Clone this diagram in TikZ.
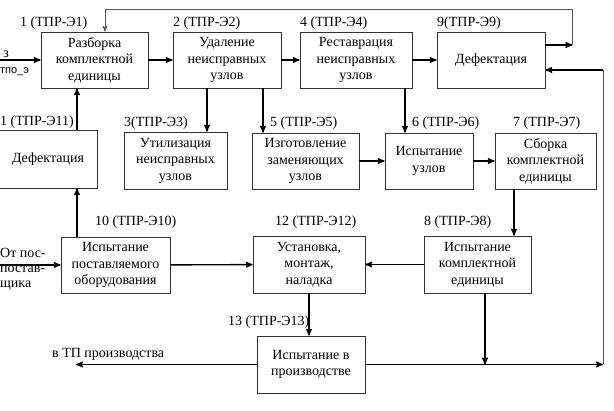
\documentclass[tikz,border=0pt]{standalone}
\usepackage{fontspec}
\setmainfont{Liberation Serif}
\setsansfont{Liberation Sans}
\usepackage{tikz}
\usetikzlibrary{arrows, positioning}
\colorlet{colorBox}{black!80}
\colorlet{colorBack}{black!65}
\tikzset{
  block/.style={draw=colorBox, line width=0.7pt, align=center, inner sep=0pt,
    font=\rmfamily\fontsize{14}{16.5}\selectfont},
  tag/.style={anchor=base west, inner sep=0pt, font=\rmfamily\fontsize{14}{16.5}\selectfont},
  flow/.style={->, line width=1.4pt},
  back/.style={line width=0.8pt, colorBack}
}

\begin{document}
\begin{tikzpicture}[>=stealth', x=1pt, y=-1pt]
\useasboundingbox (0,0) rectangle (614,411);
% row 1
\node[block, minimum width=107pt, minimum height=56pt] (b1) at (94.5,60) {Разборка\\комплектной\\единицы};
\node[block, minimum width=108pt, minimum height=56pt] (b2) at (227,60) {Удаление\\неисправных\\узлов};
\node[block, minimum width=112pt, minimum height=56pt] (b4) at (356,60) {Реставрация\\неисправных\\узлов};
\node[block, minimum width=108pt, minimum height=56pt] (b9) at (491,60) {Дефектация};
% row 2
\node[block, minimum width=98pt, minimum height=58pt] (b11) at (48,159) {Дефектация};
\node[block, minimum width=103pt, minimum height=57pt] (b3) at (175.5,160.5) {Утилизация\\неисправных\\узлов};
\node[block, minimum width=107pt, minimum height=56pt] (b5) at (305.5,161) {Изготовление\\заменяющих\\узлов};
\node[block, minimum width=88pt, minimum height=56pt] (b6) at (429,161) {Испытание\\узлов};
\node[block, minimum width=101pt, minimum height=56pt] (b7) at (545.5,161) {Сборка\\комплектной\\единицы};
% row 3
\node[block, minimum width=109pt, minimum height=56pt] (b10) at (115.5,265) {Испытание\\поставляемого\\оборудования};
\node[block, minimum width=112pt, minimum height=57pt] (b12) at (309,264.5) {Установка,\\монтаж,\\наладка};
\node[block, minimum width=107pt, minimum height=57pt] (b8) at (477.5,264.5) {Испытание\\комплектной\\единицы};
% row 4
\node[block, minimum width=108pt, minimum height=57pt] (b13) at (311,364.5) {Испытание в\\производстве};

% numbers
\node[tag] (n1) at (20,27) {1 (ТПР-Э1)};
\node[tag] (n2) at (173,27) {2 (ТПР-Э2)};
\node[tag] (n4) at (300,27) {4 (ТПР-Э4)};
\node[tag] (n9) at (437,27) {9(ТПР-Э9)};
\node[tag] (n11) at (0,126) {1 (ТПР-Э11)};
\node[tag] (n3) at (124,127) {3(ТПР-Э3)};
\node[tag] (n5) at (270,127) {5 (ТПР-Э5)};
\node[tag] (n6) at (412,127) {6 (ТПР-Э6)};
\node[tag] (n7) at (513,127) {7 (ТПР-Э7)};
\node[tag] (n10) at (95,226) {10 (ТПР-Э10)};
\node[tag] (n12) at (275,226) {12 (ТПР-Э12)};
\node[tag] (n8) at (424,226) {8 (ТПР-Э8)};
\node[tag] (n13) at (228,326) {13 (ТПР-Э13)};

% inputs and outputs
\node[anchor=base east, inner sep=0pt, font=\rmfamily\fontsize{14}{16.5}\selectfont] (z1) at (9,58) {з};
\node[anchor=base west, inner sep=0pt, font=\sffamily\fontsize{11}{13}\selectfont] (z2) at (0,74) {тпо\textunderscore э};
\node[anchor=north west, align=left, inner sep=0pt, font=\rmfamily\fontsize{14}{15}\selectfont] (src) at (0,248) {От пос-\\постав-\\щика};
\node[tag] (dst) at (52,358) {в ТП производства};

\coordinate (in1) at (0,60);
\coordinate (in10) at (0,265);
\coordinate (w13) at (76,364.5);
\coordinate (e13) at (603,364.5);

\draw [flow] (in1) -- (b1);
\draw [flow] (b1) edge (b2) (b2) edge (b4) (b4) edge (b9);
\draw [flow] (b5) edge (b6) (b6) edge (b7);
\draw [flow] (in10) -- (b10);
\draw [flow] (b10) edge (b12) (b8) edge (b12);
\draw [flow] (b13) -- (w13);
\draw [flow] (b13) -- (e13);

% downward links
\coordinate (d2a) at ([xshift=-20pt]b2.south);
\coordinate (d2b) at ([xshift=36pt]b2.south);
\coordinate (d4) at ([xshift=49pt]b4.south);
\coordinate (d7) at ([xshift=-31.5pt]b7.south);
\coordinate (d8) at ([xshift=7.5pt]b8.south);
\draw [flow] (d2a) -- (d2a |- b3.north);
\draw [flow] (d2b) -- (d2b |- b5.north);
\draw [flow] (d4) -- (d4 |- b6.north);
\draw [flow] (d7) -- (d7 |- b8.north);
\draw [flow] (b12.south) -- (b12.south |- b13.north);
\draw [flow] (d8) -- (d8 |- e13);

% upward links
\coordinate (u10) at ([xshift=-38.5pt]b10.north);
\coordinate (u11) at ([xshift=29pt]b11.north);
\draw [flow] (u10) -- (u10 |- b11.south);
\draw [flow] (u11) -- (u11 |- b1.south);

% return loops
\coordinate (r9) at ([yshift=-10pt]b9.east);
\coordinate (s9) at ([yshift=15pt]b9.east);
\coordinate (k9) at ([xshift=27pt]s9);
\coordinate (t1) at ([xshift=10.5pt]b1.north);
\coordinate (top) at (572,10);
\draw [back] (e13) -- (e13 |- r9);
\draw [flow] (e13 |- r9) -- (r9);
\draw [flow] (s9) -- (k9);
\draw [back, ->, line width=1pt] (k9) |- (t1 |- top) -- (t1);
\end{tikzpicture}
\end{document}
